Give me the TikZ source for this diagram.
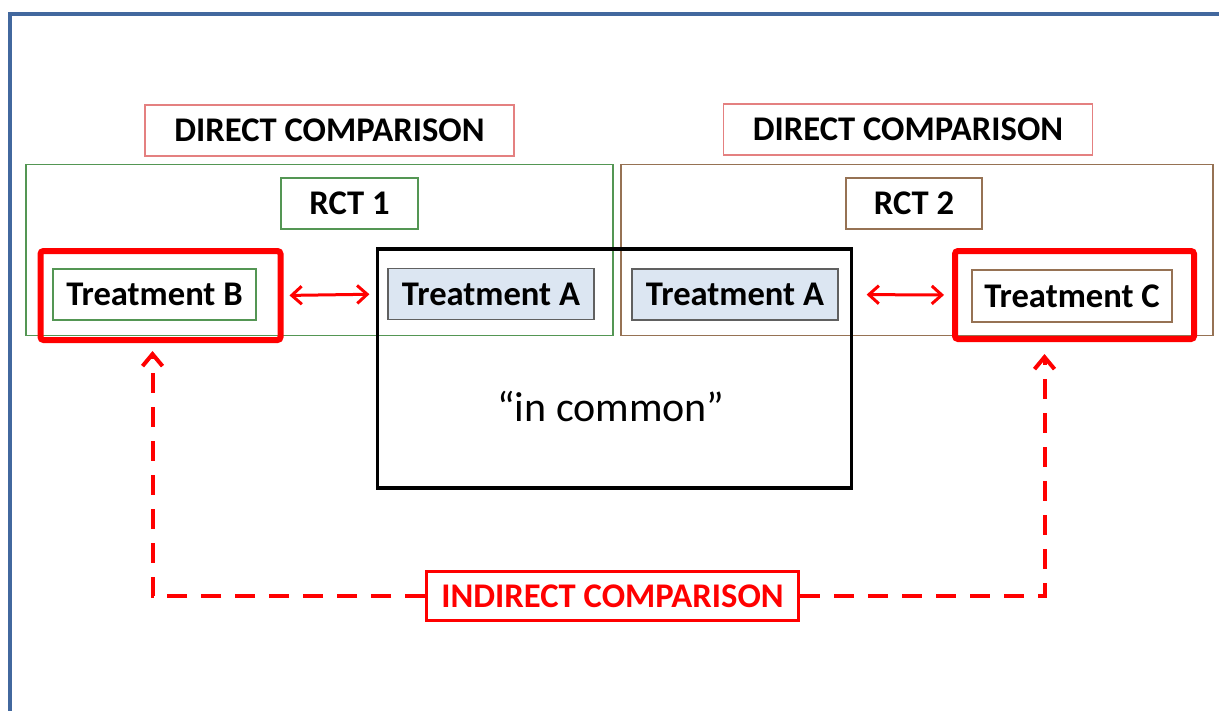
\documentclass[tikz,border=0pt]{standalone}
\usepackage{fontspec}
\setmainfont{Carlito}
\usepackage{xcolor}
\usepackage{tikz}
\usetikzlibrary{arrows.meta,calc,positioning}
\definecolor{frameblue}{RGB}{66,104,158}
\definecolor{pinkline}{RGB}{228,128,128}
\definecolor{trialgreen}{RGB}{84,150,84}
\definecolor{trialbrown}{RGB}{150,114,84}
\definecolor{armfill}{RGB}{220,230,242}
\definecolor{armline}{RGB}{96,96,96}
\begin{document}
\begin{tikzpicture}[x=0.5pt,y=-0.5pt,
      font=\fontsize{17.3}{19}\selectfont\bfseries,
      box/.style={
        rectangle,
        draw,
        line width=0.6pt,
        inner sep=0pt
      },
      heading/.style={box, draw=pinkline, minimum width=184.5pt, minimum height=25.5pt},
      trial/.style={box, minimum height=85.5pt},
      arm/.style={box, minimum width=101.5pt, minimum height=25.5pt},
      shared/.style={arm, draw=armline, fill=armfill, minimum width=103pt},
      pick/.style={
        box,
        draw=red,
        line width=3pt,
        rounded corners=1.5pt,
        minimum width=120pt,
        minimum height=44.5pt
      },
      direct/.style={
        {Straight Barb[length=5pt,width=9pt]}-{Straight Barb[length=5pt,width=9pt]},
        red, line width=1.5pt
      },
      indirect/.style={
        -{Straight Barb[length=6pt,width=10pt]},
        red, line width=2pt, dash pattern=on 10pt off 7pt
      }
    ]
    \useasboundingbox (0,0) rectangle (1219,711);
    \draw[frameblue, line width=1.6pt] (10,720) -- (10,14) -- (1230,14);

    \node[trial, draw=trialgreen, minimum width=293.5pt] (rct1) at (319.5,250) {};
    \node[trial, draw=trialbrown, minimum width=296pt] (rct2) at (917,250) {};
    \node[heading] (dc1) at (329.5,130.5) {DIRECT COMPARISON};
    \node[heading] (dc2) at (908,129.5) {DIRECT COMPARISON};
    \node[box, draw=trialgreen, minimum width=68.5pt, minimum height=25.5pt] (lab1) at (349.5,203.5) {RCT 1};
    \node[box, draw=trialbrown, minimum width=68pt, minimum height=25.5pt] (lab2) at (914,203.5) {RCT 2};

    \node[box, draw=black, line width=1.6pt, minimum width=237pt, minimum height=119.5pt] (common) at (614.5,368.5) {};
    \node[font=\fontsize{21}{23}\selectfont] (commontext) at (611,406) {``in common''};

    \node[pick] (pickB) at (160.5,295.5) {};
    \node[pick, minimum width=119.5pt, minimum height=44pt] (pickC) at (1074.5,295) {};
    \node[arm, draw=trialgreen] (trtB) at (154.5,294.5) {Treatment B};
    \node[shared] (trtA1) at (491,294) {Treatment A};
    \node[shared] (trtA2) at (735,294.5) {Treatment A};
    \node[arm, draw=trialbrown, minimum width=100pt, minimum height=26pt] (trtC) at (1072,296) {Treatment C};

    \node[box, draw=red, line width=1.5pt, text=red, minimum width=186pt, minimum height=24.5pt] (ind) at (612.5,596) {INDIRECT COMPARISON};

    \draw[direct, shorten <=3pt, shorten >=9pt] (pickB.east) -- (trtA1.west);
    \draw[direct, shorten <=14pt, shorten >=4pt] (trtA2.east) -- (pickC.west);
    \draw[indirect, shorten >=4pt] (ind.west) -| ([xshift=-4pt]pickB.south);
    \draw[indirect, shorten >=6pt] (ind.east) -| ([xshift=-15pt]pickC.south);
  \end{tikzpicture}
\end{document}
